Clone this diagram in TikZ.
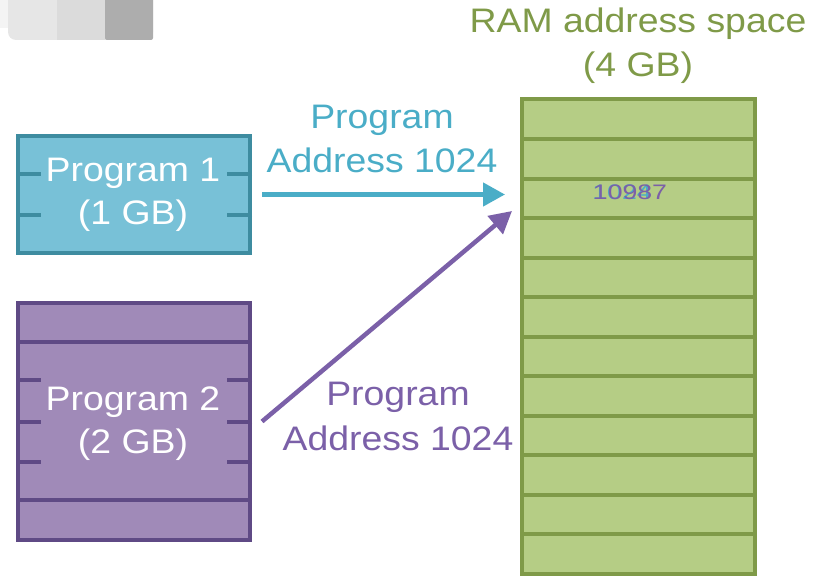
\documentclass[tikz,border=0pt]{standalone}
\usepackage{fontspec}
\setmainfont[FakeStretch=1.1]{Liberation Sans}
\newfontfamily\numfont[FakeStretch=1.27]{Liberation Sans}
\usetikzlibrary{arrows.meta,calc}
\definecolor{tealfill}{HTML}{78C1D7}
\definecolor{tealline}{HTML}{3E8CA0}
\definecolor{tealarrow}{HTML}{4AADC7}
\definecolor{purpfill}{HTML}{A08AB8}
\definecolor{purpline}{HTML}{5F4A85}
\definecolor{purparrow}{HTML}{7B60A8}
\definecolor{ramfill}{HTML}{B5CD85}
\definecolor{ramline}{HTML}{7F9A48}
\definecolor{gA}{HTML}{E6E6E6}
\definecolor{gB}{HTML}{DBDBDB}
\definecolor{gC}{HTML}{ADADAD}
\definecolor{gD}{HTML}{F4F4F4}
\tikzset{
  box/.style={rectangle, line width=4pt, inner sep=0pt},
  boxtext/.style={anchor=base, align=center, text=white, inner sep=0pt,
    font=\fontsize{34}{43}\selectfont},
  label/.style={anchor=base, align=center, inner sep=0pt,
    font=\fontsize{34}{44.5}\selectfont},
  tick/.style={line width=4pt},
  ptr/.style={line width=4.5pt, -{Triangle[length=22pt,width=23pt]}},
  numtext/.style={anchor=base, inner sep=0pt, font=\numfont\fontsize{21}{24}\selectfont}
}
\begin{document}
\begin{tikzpicture}[x=1pt,y=-1pt]
\useasboundingbox (0,0) rectangle (824,585);
% top-left grey strip
\fill[gD] (0,0) rectangle (8,28);
\fill[gA, rounded corners=8pt] (8,-20) rectangle (153,40);
\fill[gB] (57,-20) rectangle (105,40);
\fill[gC, rounded corners=2pt] (105,-20) rectangle (153,40);

% Program 1
\node[box, fill=tealfill, draw=tealline, minimum width=232pt, minimum height=117pt] (p1) at (134,194.5) {};
\foreach \dy in {-20.5,20.5} {
  \draw[tick, tealline] ($(p1.west)+(0,\dy)$) -- ++(25,0);
  \draw[tick, tealline] ($(p1.east)+(0,\dy)$) -- ++(-25,0);
}
\node[boxtext] (t1) at (133,225) {Program 1\\(1 GB)};

% Program 2
\node[box, fill=purpfill, draw=purpline, minimum width=232pt, minimum height=237pt] (p2) at (134,421.5) {};
\foreach \dy in {-79.5,78.5} {
  \draw[tick, purpline] ($(p2.west)+(2,\dy)$) -- ($(p2.east)+(-2,\dy)$);
}
\foreach \dy in {-41.5,0.5,40.5} {
  \draw[tick, purpline] ($(p2.west)+(0,\dy)$) -- ++(25,0);
  \draw[tick, purpline] ($(p2.east)+(0,\dy)$) -- ++(-25,0);
}
\node[boxtext] (t2) at (133,453) {Program 2\\(2 GB)};

% RAM
\node[box, fill=ramfill, draw=ramline, minimum width=232.5pt, minimum height=474.5pt] (ram) at (638.25,336.75) {};
\foreach \k in {1,...,11} {
  \draw[tick, ramline] ($(ram.north west)+(2,2+\k*39.54)$) -- ($(ram.north east)+(-2,2+\k*39.54)$);
}
\node[label, text=ramline] (title) at (638,77) {RAM address space\\(4 GB)};

% overlapping addresses in row 3
\node[numtext, text=tealarrow] (n1) at (622,200) {1024};
\node[numtext, text=purparrow] (n2) at (630,200) {10987};

% arrows
\coordinate (s2) at ($(p2.east)+(10,0)$);
\coordinate (tip2) at (512,211);
\draw[ptr, tealarrow, shorten <=10pt, shorten >=15pt] (p1.east) -- (p1.east -| ram.west);
\draw[ptr, purparrow] (s2) -- (tip2);

\node[label, text=tealarrow] (l1) at (382,173) {Program\\Address 1024};
\node[label, text=purparrow] (l2) at (398,450) {Program\\Address 1024};
\end{tikzpicture}
\end{document}
